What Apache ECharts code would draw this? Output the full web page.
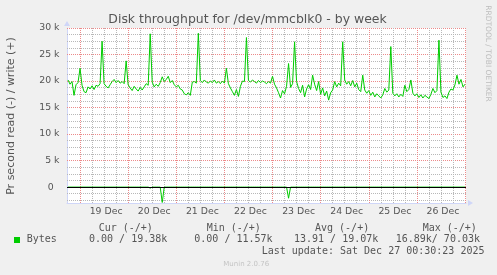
<!DOCTYPE html>
<html><head><meta charset="utf-8">
<script src="https://cdn.jsdelivr.net/npm/echarts@6/dist/echarts.min.js"></script>
<style>html,body{margin:0;padding:0;background:#f0f0f0}#c{width:497px;height:275px}</style>
</head><body><div id="c"></div>
<script>
// Time in hours relative to 19 Dec 00:00; one sample per hour
const startHour = -6;
const stepHours = 1;
// write (+) bytes per second
const writeBytes = [
  20200, 19400, 19900, 17300, 19300, 19700,
  22400, 19200, 18000, 17800, 18900, 18500, 19100, 18400, 19200, 19000, 19500, 27500,
  19500, 19000, 18700, 19300, 19900, 20300, 19700, 20100, 19600, 19900, 19500, 23800,
  19300, 18700, 18200, 19000, 18500, 18100, 18800, 18300, 18900, 19500, 19200, 28900,
  19800, 18900, 19400, 19000, 19700, 20800, 19900, 20300, 20900, 19700, 20100, 19300,
  18900, 19200, 18500, 18300, 17600, 17400, 17800, 17300, 19800, 19900, 19600, 29000,
  20100, 19700, 20200, 19800, 19600, 20000, 19700, 20200, 19600, 19900, 19500, 20000,
  19600, 22400, 19500, 18700, 18000, 17300, 18400, 17100, 19000, 20000, 19900, 28200,
  20100, 19800, 20200, 19900, 19600, 20100, 19700, 20000, 19800, 19500, 19900, 19600,
  20900, 19400, 18700, 17800, 16800, 18200, 17600, 19000, 23300, 18800, 19500, 27400,
  19900, 18600, 17800, 19200, 17000, 18500, 19300, 18400, 21100, 19400, 18200, 19900,
  17500, 18700, 17200, 18100, 16400, 17800, 18300, 19900, 18900, 19600, 19100, 27400,
  20200, 19400, 19900, 19100, 20100, 18900, 19600, 18400, 18000, 21100, 18300, 17700,
  18200, 17300, 17900, 17000, 17600, 17200, 16800, 17400, 18600, 17900, 18300, 26500,
  17700, 17200, 17600, 17000, 17500, 17100, 19200, 18000, 18400, 20200, 17700, 17200,
  17600, 16900, 17400, 16800, 17300, 17000, 16700, 17500, 18600, 17800, 18200, 27700,
  17900, 16900, 17200, 16700, 17900, 18500, 18300, 19300, 21100, 19400, 20300, 18900, 19400
];
// read (-) bytes per second: zero except these hours
const readDipHours = [35, 41, 104];
const readDipBytes = [-200, -2900, -2100];

const dayLabels = ['19 Dec', '20 Dec', '21 Dec', '22 Dec', '23 Dec', '24 Dec', '25 Dec', '26 Dec'];
const yTickLabels = ['0  ', '5 k', '10 k', '15 k', '20 k', '25 k', '30 k'];
const legendHeaders = ['Cur (-/+)', 'Min (-/+)', 'Avg (-/+)', 'Max (-/+)'];
const legendValues = ['0.00 / 19.38k', '0.00 / 11.57k', '13.91 / 19.07k', '16.89k/ 70.03k'];
const seriesName = 'Bytes';
const titleText = 'Disk throughput for /dev/mmcblk0 - by week';
const yName = 'Pr second read (-) / write (+)';
const lastUpdate = 'Last update: Sat Dec 27 00:30:23 2025';
const versionText = 'Munin 2.0.76';
const sideText = 'RRDTOOL / TOBI OETIKER';

const writeData = writeBytes.map((v, i) => [startHour + i * stepHours, v]);
const readData = writeBytes.map((_, i) => {
  const h = startHour + i * stepHours;
  const k = readDipHours.indexOf(h);
  return [h, k >= 0 ? readDipBytes[k] : 0];
});

const FONT = 'DejaVu Sans', MONO = 'DejaVu Sans Mono', TXT = '#555555';
const GMIN = '#b8b8b8', GMAJ = '#ec8a8a';
const GREEN = '#00CC00', AXIS = '#CFD6F8';

function txt(x, y, text, o) {
  o = o || {};
  return {
    type: 'text', x: x, y: y, rotation: o.rot || 0, silent: true, z: 10,
    style: {
      text: text, fill: o.color || TXT, fontSize: o.size || 10, fontFamily: o.family || MONO,
      align: o.align || 'left', verticalAlign: 'middle',
      textAlign: o.align || 'left', textVerticalAlign: 'middle'
    }
  };
}

const graphic = [
  txt(247.5, 19.5, titleText, {size: 12.45, family: FONT, align: 'center'}),
  txt(11, 116, yName, {size: 11, family: FONT, align: 'center', rot: Math.PI / 2}),
  txt(487.5, 53.5, sideText, {size: 7.5, family: FONT, align: 'center', rot: -Math.PI / 2, color: '#bdbdbd'}),
  {type: 'rect', shape: {x: 14, y: 237, width: 6, height: 6}, style: {fill: GREEN}, silent: true},
  txt(26.7, 239.8, seriesName),
  txt(261.7, 251.3, lastUpdate),
  txt(223.3, 264, versionText, {size: 7, family: FONT, color: '#c4c4c4'})
];
const hx = [98.7, 206.7, 315, 422.7];
const vx = [89, 194.3, 294, 395.7];
legendHeaders.forEach((t, i) => graphic.push(txt(hx[i], 228, t)));
legendValues.forEach((t, i) => graphic.push(txt(vx[i], 239.8, t)));

const hidden = (g) => ({gridIndex: g, type: 'value', min: 0, max: 1, show: false});
const dotted = (c) => ({show: true, showMinLine: true, showMaxLine: true, lineStyle: {color: c, type: 'dotted', width: 1}});

const chart = echarts.init(document.getElementById('c'), null, {renderer: 'canvas'});
chart.setOption({
  backgroundColor: '#f0f0f0',
  animation: false,
  grid: [
    {left: 67, top: 28, width: 399, height: 175, show: true, backgroundColor: '#ffffff', borderWidth: 0}, // data
    {left: 68, top: 28, width: 397, height: 175, show: false},   // day labels
    {left: 67, top: 28, width: 399, height: 172.35, show: false}, // 1250 minor horizontals
    {left: 80, top: 28, width: 385, height: 175, show: false},   // midnight + 6 h verticals
    {left: 67, top: 28, width: 399, height: 159.1, show: false}  // 5k horizontals + labels
  ],
  xAxis: [
    {gridIndex: 0, type: 'value', min: -6.5, max: 192.5,
     axisLine: {show: true, onZero: false, lineStyle: {color: AXIS, width: 1},
       symbol: ['none', 'triangle'], symbolSize: [6, 5], symbolOffset: [0, 4.5]},
     axisTick: {show: false}, axisLabel: {show: false}, splitLine: {show: false}},
    {gridIndex: 1, type: 'value', min: -6, max: 192, interval: 6,
     axisLine: {show: false}, axisTick: {show: false},
     axisLabel: {show: true, margin: 4, fontSize: 9.33, fontFamily: FONT, color: TXT, padding: [0, 0, 0, 4],
       formatter: v => ((v - 12) % 24 === 0 && v >= 12) ? (dayLabels[(v - 12) / 24] || '') : ''},
     splitLine: {show: false}},
    hidden(2),
    {gridIndex: 3, type: 'value', min: 0, max: 192, interval: 24,
     axisLine: {show: false}, axisTick: {show: false}, axisLabel: {show: false},
     minorTick: {show: false, splitNumber: 4},
     minorSplitLine: {show: true, lineStyle: {color: GMIN, type: 'dotted', width: 1}},
     splitLine: dotted(GMAJ), z: 2},
    hidden(4)
  ],
  yAxis: [
    {gridIndex: 0, type: 'value', min: -3000, max: 30000,
     axisLine: {show: true, onZero: false, lineStyle: {color: AXIS, width: 1},
       symbol: ['none', 'triangle'], symbolSize: [6, 5], symbolOffset: [0, 4.5]},
     axisTick: {show: false}, axisLabel: {show: false}, splitLine: {show: false}},
    hidden(1),
    {gridIndex: 2, type: 'value', min: -2500, max: 30000, interval: 1250,
     axisLine: {show: false}, axisTick: {show: false}, axisLabel: {show: false},
     splitLine: dotted(GMIN), z: 1},
    hidden(3),
    {gridIndex: 4, type: 'value', min: 0, max: 30000, interval: 5000,
     axisLine: {show: false}, axisTick: {show: false},
     axisLabel: {show: true, margin: 7.5, fontSize: 9.33, fontFamily: FONT, color: TXT,
       formatter: v => yTickLabels[v / 5000] || ''},
     splitLine: dotted(GMAJ), z: 2}
  ],
  series: [
    {type: 'line', name: seriesName + ' write', xAxisIndex: 0, yAxisIndex: 0, data: writeData,
     symbol: 'none', lineStyle: {color: GREEN, width: 1}, z: 3},
    {type: 'line', name: seriesName + ' read', xAxisIndex: 0, yAxisIndex: 0, data: readData,
     symbol: 'none', lineStyle: {color: GREEN, width: 1}, z: 3},
    {type: 'line', name: 'zero', xAxisIndex: 0, yAxisIndex: 0, data: [], z: 5,
     markLine: {silent: true, symbol: 'none', label: {show: false}, animation: false,
       lineStyle: {color: '#000000', width: 1, type: 'solid'}, data: [{yAxis: 0}]}}
  ],
  graphic: graphic
});
</script></body></html>
